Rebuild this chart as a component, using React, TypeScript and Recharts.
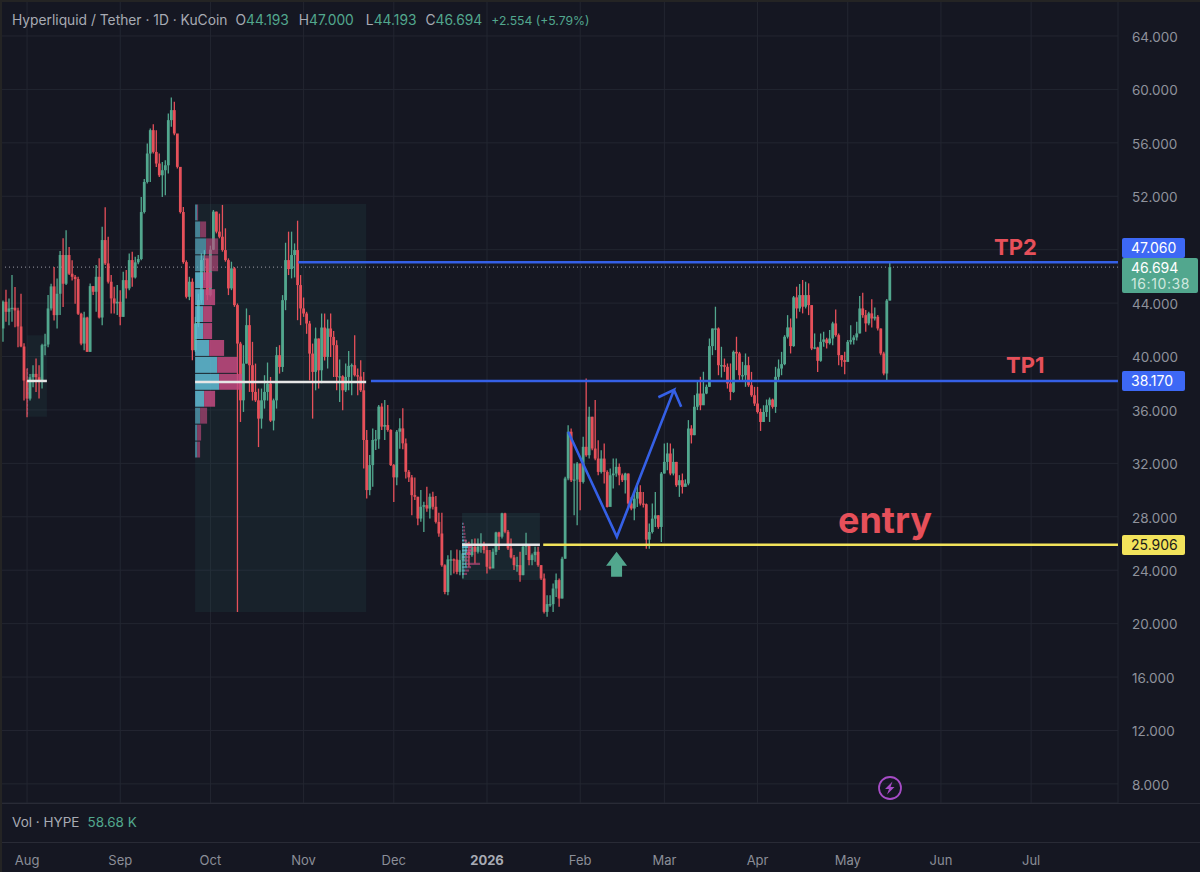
import { Bar, CartesianGrid, ComposedChart, Line, ReferenceArea, ReferenceDot, ReferenceLine, XAxis, YAxis } from "recharts";

const UP = "#52a78e";
const DOWN = "#e6505a";
const BLUE = "#3560e6";
const BG = "#151722";

const firstDay = -9;
const firstOpen = 43.72;
// one value per daily candle, first candle is Jul 23 (day 0 = Aug 1)
const closes = [
  42.1, 44.1, 43.35, 43.6, 43.65, 43.45, 42.25, 40.75, 38.2, 36.85,
  38.45, 38.7, 38.45, 38.1, 40.85, 40.9, 43.6, 45.25, 43.1, 44.7,
  47.6, 45.45, 47.6, 46.2, 45.97, 45.8, 43.2, 40.97, 42.92, 40.35,
  45.27, 44.85, 45.97, 42.92, 48.72, 46.97, 45.6, 44.35, 43.97, 44.1,
  42.97, 45.72, 45.1, 47.22, 45.92, 47.05, 47.3, 50.82, 53.07, 55.2,
  56.95, 55.32, 54.45, 53.57, 53.95, 54.32, 57.7, 58.45, 56.7, 54.2,
  50.82, 47.07, 44.47, 45.6, 40.47, 42.47, 44.22, 47.22, 47.35, 44.6,
  48.0, 50.85, 49.35, 48.97, 47.97, 47.22, 45.1, 46.6, 43.85, 40.97,
  36.72, 39.47, 42.35, 39.35, 37.35, 36.72, 35.35, 36.72, 37.35, 37.97,
  35.2, 36.72, 40.1, 39.22, 44.22, 47.22, 46.55, 47.6, 47.97, 45.35,
  43.6, 43.22, 42.47, 40.22, 38.85, 41.35, 38.97, 42.17, 39.97, 42.1,
  41.47, 40.85, 38.47, 38.52, 37.47, 38.47, 39.3, 39.35, 38.6, 38.5,
  37.47, 33.75, 30.0, 31.87, 33.75, 33.8, 36.25, 34.75, 34.87, 34.5,
  31.87, 30.95, 34.37, 34.62, 33.5, 31.37, 30.95, 29.62, 29.5, 27.87,
  28.75, 28.87, 28.62, 29.5, 28.75, 27.62, 26.75, 24.37, 22.37, 24.81,
  24.81, 24.8, 23.88, 24.76, 25.26, 25.38, 25.13, 25.76, 25.38, 25.76,
  25.96, 25.51, 24.26, 24.13, 25.38, 26.83, 26.51, 28.26, 26.88, 25.63,
  24.96, 24.38, 24.38, 23.63, 25.76, 25.88, 24.76, 25.13, 25.38, 24.38,
  23.38, 20.88, 21.46, 21.46, 22.63, 23.26, 21.88, 24.86, 30.87, 34.37,
  30.74, 30.79, 31.99, 30.61, 33.24, 32.61, 35.49, 33.11, 32.36, 31.36,
  32.36, 31.36, 28.74, 31.11, 31.24, 31.74, 31.11, 30.74, 31.24, 28.99,
  28.62, 29.36, 29.86, 28.99, 28.94, 26.29, 26.86, 27.86, 28.11, 27.24,
  31.24, 32.11, 32.74, 31.24, 32.11, 30.36, 30.74, 30.24, 30.49, 34.61,
  34.11, 36.24, 37.23, 36.35, 37.23, 37.73, 40.78, 42.1, 42.1, 39.35,
  39.35, 39.23, 37.98, 37.35, 40.35, 40.23, 38.6, 38.6, 39.35, 37.85,
  37.1, 36.48, 35.85, 35.1, 35.85, 36.35, 36.78, 36.23, 38.48, 39.1,
  39.43, 41.48, 42.18, 40.78, 44.43, 43.6, 44.6, 43.73, 44.6, 43.85,
  40.6, 40.68, 39.68, 41.1, 41.28, 41.0, 41.35, 42.48, 41.6, 40.1,
  39.73, 39.6, 41.1, 41.23, 41.43, 41.73, 43.6, 43.1, 42.48, 43.23,
  42.85, 42.98, 42.1, 40.23, 38.73, 44.19, 46.694,
];
const highs = [
  44.35, 44.2, 45.0, 44.35, 46.1, 45.2, 43.65, 44.7, 41.0, 39.1,
  38.7, 39.35, 39.85, 39.35, 40.95, 41.7, 44.6, 45.45, 46.7, 45.85,
  47.9, 48.85, 49.45, 48.2, 47.2, 46.1, 45.97, 43.27, 43.35, 42.97,
  45.47, 45.27, 46.85, 47.35, 49.72, 51.17, 48.97, 46.1, 45.22, 45.35,
  44.97, 46.35, 46.47, 47.72, 47.85, 47.47, 47.6, 51.95, 53.3, 55.95,
  57.07, 57.4, 56.95, 55.2, 54.57, 54.7, 58.2, 59.4, 59.07, 56.57,
  54.2, 51.2, 47.2, 45.97, 45.85, 42.97, 44.7, 47.72, 47.97, 46.35,
  48.3, 50.97, 50.85, 50.7, 51.35, 49.6, 47.35, 47.1, 46.7, 43.97,
  41.1, 40.85, 43.6, 43.1, 41.1, 39.47, 37.6, 37.6, 38.6, 39.55,
  38.47, 36.85, 40.72, 40.85, 44.6, 48.52, 49.35, 49.35, 48.47, 50.17,
  46.1, 44.42, 43.35, 42.67, 40.97, 42.17, 41.35, 43.22, 43.22, 42.77,
  43.22, 41.92, 41.22, 39.77, 38.6, 39.47, 40.42, 39.47, 41.6, 39.1,
  39.72, 38.85, 34.5, 32.62, 34.62, 34.5, 36.37, 36.5, 36.75, 36.37,
  34.55, 31.95, 34.5, 35.37, 36.12, 33.87, 31.5, 31.12, 30.95, 29.5,
  30.0, 29.12, 30.25, 29.75, 29.87, 29.55, 28.3, 28.3, 24.45, 25.12,
  25.5, 24.88, 25.56, 25.5, 26.0, 26.26, 26.13, 26.31, 26.38, 26.38,
  26.76, 26.13, 25.88, 25.51, 25.63, 26.88, 26.88, 28.31, 28.31, 27.01,
  26.38, 25.13, 25.01, 25.38, 25.81, 26.81, 25.88, 25.26, 25.76, 25.76,
  24.38, 23.76, 22.13, 22.13, 23.0, 23.76, 23.38, 25.0, 31.0, 34.86,
  34.61, 31.99, 32.1, 31.99, 33.99, 38.36, 36.24, 35.49, 36.74, 33.74,
  32.99, 33.49, 31.49, 31.61, 32.36, 32.36, 31.99, 31.24, 31.3, 31.24,
  29.49, 29.86, 30.49, 30.36, 29.86, 28.99, 27.49, 28.99, 29.86, 28.11,
  31.36, 33.49, 33.54, 33.49, 33.11, 32.11, 31.12, 31.24, 30.8, 35.24,
  34.86, 37.11, 38.2, 38.48, 38.86, 37.9, 41.35, 42.1, 43.73, 42.18,
  40.73, 39.85, 39.48, 39.48, 40.45, 41.48, 40.35, 39.6, 40.23, 39.98,
  38.85, 37.73, 37.73, 36.1, 36.35, 36.78, 36.93, 36.85, 39.23, 39.78,
  40.35, 41.6, 43.1, 42.85, 44.53, 45.23, 45.43, 45.73, 45.6, 45.48,
  43.85, 41.73, 40.73, 41.73, 41.85, 41.4, 41.98, 42.6, 43.53, 41.73,
  40.1, 40.35, 41.23, 42.35, 41.6, 42.6, 44.53, 44.78, 43.48, 43.35,
  44.28, 43.68, 43.1, 42.1, 40.35, 44.3, 47.0,
];
const lows = [
  41.6, 41.1, 42.6, 42.35, 42.6, 42.2, 40.7, 40.7, 36.7, 35.45,
  36.7, 37.7, 37.35, 36.85, 37.6, 40.1, 40.7, 43.45, 42.7, 42.1,
  43.1, 43.7, 45.35, 46.1, 45.7, 43.95, 43.1, 40.85, 40.47, 40.35,
  40.35, 44.6, 43.35, 42.85, 42.35, 46.85, 45.47, 43.22, 43.22, 43.1,
  42.35, 42.97, 44.35, 44.97, 45.22, 45.85, 46.9, 47.2, 50.7, 52.95,
  53.07, 55.2, 54.2, 53.45, 51.95, 52.07, 53.7, 57.2, 56.57, 54.07,
  50.7, 46.95, 44.35, 44.22, 39.72, 40.35, 42.2, 43.97, 45.72, 44.22,
  44.5, 47.97, 49.22, 48.85, 47.85, 47.1, 44.6, 44.97, 43.72, 20.87,
  35.1, 35.85, 39.47, 37.35, 36.7, 36.6, 33.22, 34.6, 36.1, 36.7,
  35.1, 34.47, 36.1, 38.72, 38.85, 43.47, 46.1, 45.85, 45.92, 42.72,
  42.35, 42.97, 41.7, 38.22, 35.35, 37.47, 37.6, 38.0, 39.7, 39.1,
  39.97, 38.47, 37.47, 36.6, 35.97, 37.35, 37.47, 37.1, 38.5, 37.1,
  37.35, 31.62, 29.37, 29.62, 30.25, 33.0, 33.1, 34.5, 33.75, 34.37,
  31.8, 29.1, 30.37, 33.1, 33.05, 30.87, 30.6, 28.12, 29.25, 27.37,
  27.62, 26.87, 28.37, 27.87, 28.55, 27.5, 26.5, 24.25, 22.2, 22.12,
  23.63, 23.76, 23.7, 23.63, 23.38, 24.26, 24.26, 25.01, 24.51, 25.26,
  25.31, 25.26, 23.76, 24.06, 24.26, 25.13, 25.51, 26.38, 26.76, 25.51,
  24.88, 24.01, 23.88, 23.13, 23.63, 25.13, 24.38, 24.38, 24.63, 24.26,
  23.26, 20.76, 20.51, 21.26, 20.88, 22.0, 21.26, 21.88, 24.86, 30.74,
  30.61, 28.11, 27.36, 28.49, 30.49, 32.49, 32.36, 32.99, 32.24, 31.11,
  31.24, 30.49, 28.69, 29.29, 30.11, 30.99, 30.36, 30.6, 29.74, 28.62,
  28.49, 27.74, 28.74, 28.85, 28.7, 25.61, 25.61, 26.74, 27.24, 27.1,
  26.11, 31.24, 31.49, 31.11, 31.1, 30.24, 29.49, 29.74, 30.29, 30.36,
  33.49, 34.11, 35.99, 35.98, 36.48, 37.18, 37.73, 40.1, 40.48, 38.6,
  38.43, 38.85, 37.6, 36.73, 37.28, 38.98, 38.23, 38.2, 37.73, 37.73,
  36.98, 36.3, 35.73, 34.43, 35.1, 35.48, 35.1, 36.1, 35.78, 38.1,
  38.6, 39.35, 41.35, 40.23, 40.73, 42.85, 43.35, 43.23, 43.6, 43.1,
  40.48, 40.55, 38.85, 39.6, 40.73, 40.6, 40.9, 40.85, 41.48, 39.35,
  39.23, 38.68, 39.6, 40.9, 40.9, 41.2, 41.73, 42.9, 41.85, 42.35,
  42.18, 42.7, 41.95, 40.1, 38.6, 38.23, 44.193,
];

const monthDays = [0, 31, 61, 92, 122, 153, 184, 212, 243, 273, 304, 334];
const monthLabels = ["Aug", "Sep", "Oct", "Nov", "Dec", "2026", "Feb", "Mar", "Apr", "May", "Jun", "Jul"];
const priceTicks = [8, 12, 16, 20, 24, 28, 32, 36, 40, 44, 48, 52, 56, 60, 64];
const hiddenTick = 48; // the 47.060 tag sits on top of this label in the reference

const tp2Price = 47.06;
const tp1Price = 38.17;
const entryPrice = 25.906;
const lastPrice = 46.694;

// fixed range volume profiles, rows listed top to bottom
const mainUp = [2, 5, 11, 9, 8, 9, 8, 8, 14, 22, 24, 9, 5, 2, 2];
const mainDown = [1, 6, 12, 14, 9, 11, 9, 9, 15, 21, 23, 11, 7, 4, 3];
const smallUp = [1, 1, 1, 1.5, 1.5, 2, 3, 6, 5, 4, 3, 3, 4, 5, 3, 2];
const smallDown = [1, 2, 2, 2, 2, 2.5, 3, 4, 5, 5, 5, 4, 14, 4, 4, 3];
const tinyUp = [0.3, 0.3, 0.3, 0.3, 0.3, 0.4, 0.4, 0.3, 0.3, 0.3, 0.3, 0.3];
const tinyDown = [0.7, 0.7, 0.7, 0.7, 0.7, 0.9, 0.9, 0.7, 0.7, 0.7, 0.7, 0.7];

const patternDays = [180, 196.2, 215.2, 210, 215.2, 217.6];
const patternPrices = [34.37, 26.5, 37.5, 36.95, 37.5, 36.24];

const candles = closes.map((close, i) => ({
  day: firstDay + i,
  open: i ? closes[i - 1] : firstOpen,
  close,
  range: [lows[i], highs[i]],
}));
const pattern = patternDays.map((day, i) => ({ day, price: patternPrices[i] }));

function Candle(props: any) {
  const { x, y, width, height, payload } = props;
  const { open, close, range } = payload;
  const perUnit = height / (range[1] - range[0]);
  const top = y + (range[1] - Math.max(open, close)) * perUnit;
  const bodyH = Math.max(Math.abs(open - close) * perUnit, 1.2);
  const color = close >= open ? UP : DOWN;
  const mid = x + width / 2;
  return (
    <g>
      <line x1={mid} x2={mid} y1={y} y2={y + height} stroke={color} strokeWidth={1.3} />
      <rect x={mid - 1.4} y={top} width={2.8} height={bodyH} fill={color} />
    </g>
  );
}

function MonthTick({ x, payload }: any) {
  const i = monthDays.indexOf(payload.value);
  const label = monthLabels[i];
  return (
    <text x={x} y={865} textAnchor="middle" fontSize={13} fontFamily="Inter"
      fontWeight={label === "2026" ? 700 : 400} fill={label === "2026" ? "#a8abb4" : "#8b8e98"}>
      {label}
    </text>
  );
}

function profile(key: string, startDay: number, topPrice: number, step: number, up: number[], down: number[], gap: number, bright: (i: number) => boolean) {
  const dayPerUnit = 1 / 3.006;
  return up.flatMap((u, i) => {
    const y1 = topPrice - i * step - step * gap;
    const y2 = topPrice - (i + 1) * step + step * gap;
    const mid = startDay + u * dayPerUnit;
    const end = mid + down[i] * dayPerUnit;
    const op = bright(i) ? 0.85 : 0.62;
    return [
      <ReferenceArea key={key + "u" + i} zIndex={600} x1={startDay} x2={mid} y1={y1} y2={y2} fill="#62bdd6" fillOpacity={op} stroke="none" />,
      <ReferenceArea key={key + "d" + i} zIndex={600} x1={mid} x2={end} y1={y1} y2={y2} fill="#c44a80" fillOpacity={op} stroke="none" />,
    ];
  });
}

function ArrowMark(props: any) {
  const { cx, cy } = props;
  return <path d={`M${cx} ${cy}l10.5 14h-5v11h-11v-11h-5z`} fill={UP} />;
}

const Overlay = ({ left, top, style, children }: any) => (
  <div style={{ position: "absolute", left, top, fontFamily: "Inter", whiteSpace: "nowrap", ...style }}>{children}</div>
);

const PriceTag = ({ top, bg, color, children, width = 63, height = 20 }: any) => (
  <div style={{
    position: "absolute", left: 1122, top, width, height, background: bg, color, borderRadius: 2,
    fontFamily: "Inter", fontSize: 14, lineHeight: height + "px", paddingLeft: 9, boxSizing: "border-box",
  }}>{children}</div>
);

export default function App() {
  return (
    <div style={{ position: "relative", width: 1200, height: 872, background: BG, overflow: "hidden" }}>
      <style>{"body{margin:0}"}</style>
      <ComposedChart width={1200} height={872} data={candles} margin={{ top: 0, right: 0, bottom: 0, left: 0 }}>
        <CartesianGrid stroke="#232631" strokeWidth={1} />
        <XAxis dataKey="day" type="number" domain={[-9, 362.9]} allowDataOverflow ticks={monthDays} interval={0}
          height={69} axisLine={false} tickLine={false} tick={<MonthTick />} />
        <YAxis orientation="right" type="number" domain={[6.57, 66.695]} allowDataOverflow ticks={priceTicks} interval={0}
          width={82} axisLine={false} tickLine={false} tickMargin={8}
          tick={{ fill: "#8f929c", fontSize: 13.5, fontFamily: "Inter", dy: 1 }}
          tickFormatter={(v: number) => (v === hiddenTick ? "" : v.toFixed(3))} />

        <ReferenceArea zIndex={100} x1={55.9} x2={112.8} y1={20.87} y2={51.42} fill="#2f7070" fillOpacity={0.13} stroke="none" />
        <ReferenceArea zIndex={100} x1={144.7} x2={170.6} y1={23.27} y2={28.28} fill="#2f7070" fillOpacity={0.17} stroke="none" />
        <ReferenceArea zIndex={100} x1={0} x2={6.6} y1={35.5} y2={41.6} fill="#2f7070" fillOpacity={0.13} stroke="none" />
        <ReferenceLine zIndex={110} y={lastPrice} stroke="#9a9ca6" strokeDasharray="1 3" />

        <Bar dataKey="range" barSize={3} shape={<Candle />} isAnimationActive={false} zIndex={400} />

        {profile("main", 55.9, 51.42, 1.268, mainUp, mainDown, 0.03, (i) => i >= 4 && i <= 11)}
        {profile("small", 144.7, 27.6, 0.25, smallUp, smallDown, 0.18, (i) => i >= 5 && i <= 9)}
        {profile("tiny", 0, 39.2, 0.3, tinyUp, tinyDown, 0.2, () => false)}

        <ReferenceLine zIndex={700} segment={[{ x: 55.9, y: 38.1 }, { x: 112.8, y: 38.1 }]} stroke="#e6e6e6" strokeWidth={2.5} />
        <ReferenceLine zIndex={700} segment={[{ x: 144.7, y: 25.9 }, { x: 170.6, y: 25.9 }]} stroke="#e6e6e6" strokeWidth={2.5} />
        <ReferenceLine zIndex={700} segment={[{ x: 0, y: 38.17 }, { x: 6.6, y: 38.17 }]} stroke="#e6e6e6" strokeWidth={2.5} />

        <ReferenceLine zIndex={700} segment={[{ x: 90.2, y: tp2Price }, { x: 362.9, y: tp2Price }]} stroke={BLUE} strokeWidth={2.5} />
        <ReferenceLine zIndex={700} segment={[{ x: 114.4, y: tp1Price }, { x: 362.9, y: tp1Price }]} stroke={BLUE} strokeWidth={2.5} />
        <ReferenceLine zIndex={700} segment={[{ x: 171.7, y: entryPrice }, { x: 362.9, y: entryPrice }]} stroke="#f2e35b" strokeWidth={2.5} />

        <Line data={pattern} dataKey="price" stroke={BLUE} strokeWidth={2.6} dot={false} type="linear" isAnimationActive={false} zIndex={700} />
        <ReferenceDot zIndex={700} x={196.1} y={25.39} r={0} shape={<ArrowMark />} />
      </ComposedChart>

      {/* pane separators and window edges */}
      <div style={{ position: "absolute", left: 0, top: 803, width: 1200, height: 1, background: "#292b36" }} />
      <div style={{ position: "absolute", left: 0, top: 842, width: 1200, height: 1, background: "#292b36" }} />
      <div style={{ position: "absolute", left: 0, top: 0, width: 2, height: 872, background: "#242424" }} />
      <div style={{ position: "absolute", left: 0, top: 0, width: 1200, height: 2, background: "#242424" }} />

      <Overlay left={12} top={12} style={{ fontSize: 13.8, lineHeight: "17px", color: "#a8abb4" }}>
        Hyperliquid / Tether · 1D · KuCoin
        <span style={{ marginLeft: 8 }}>O</span><span style={{ color: UP }}>44.193</span>
        <span style={{ marginLeft: 10 }}>H</span><span style={{ color: UP }}>47.000</span>
        <span style={{ marginLeft: 12 }}>L</span><span style={{ color: UP }}>44.193</span>
        <span style={{ marginLeft: 9 }}>C</span><span style={{ color: UP }}>46.694</span>
        <span style={{ marginLeft: 9, color: UP, fontSize: 12.2 }}>+2.554 (+5.79%)</span>
      </Overlay>
      <Overlay left={12} top={814} style={{ fontSize: 13.5, lineHeight: "17px", color: "#a8abb4" }}>
        Vol · HYPE<span style={{ marginLeft: 8, color: UP }}>58.68 K</span>
      </Overlay>

      <Overlay left={994} top={233} style={{ fontSize: 22, fontWeight: 700, color: DOWN, lineHeight: "28px" }}>TP2</Overlay>
      <Overlay left={1006} top={351} style={{ fontSize: 22, fontWeight: 700, color: DOWN, lineHeight: "28px" }}>TP1</Overlay>
      <Overlay left={838} top={498} style={{ fontSize: 36, fontWeight: 700, color: DOWN, lineHeight: "44px" }}>entry</Overlay>

      <PriceTag top={238} bg="#3d68f5" color="#fff">47.060</PriceTag>
      <PriceTag top={371} bg="#3d68f5" color="#fff">38.170</PriceTag>
      <PriceTag top={535} bg="#f2e35b" color="#1a1a1a">25.906</PriceTag>
      <div style={{
        position: "absolute", left: 1122, top: 258, width: 76, height: 35, background: UP, borderRadius: 2,
        fontFamily: "Inter", fontSize: 14, lineHeight: "16px", paddingLeft: 9, paddingTop: 2, boxSizing: "border-box", color: "#fff",
      }}>
        46.694
        <div style={{ color: "#cfe7df", letterSpacing: 0.6 }}>16:10:38</div>
      </div>

      <svg style={{ position: "absolute", left: 876, top: 775 }} width={28} height={28}>
        <circle cx={14} cy={13} r={11} fill="none" stroke="#a64cc6" strokeWidth={1.8} />
        <path d="M16.5 6.5L9 14h4l-2 5.5L18.5 12h-4z" fill="#a64cc6" />
      </svg>
    </div>
  );
}
